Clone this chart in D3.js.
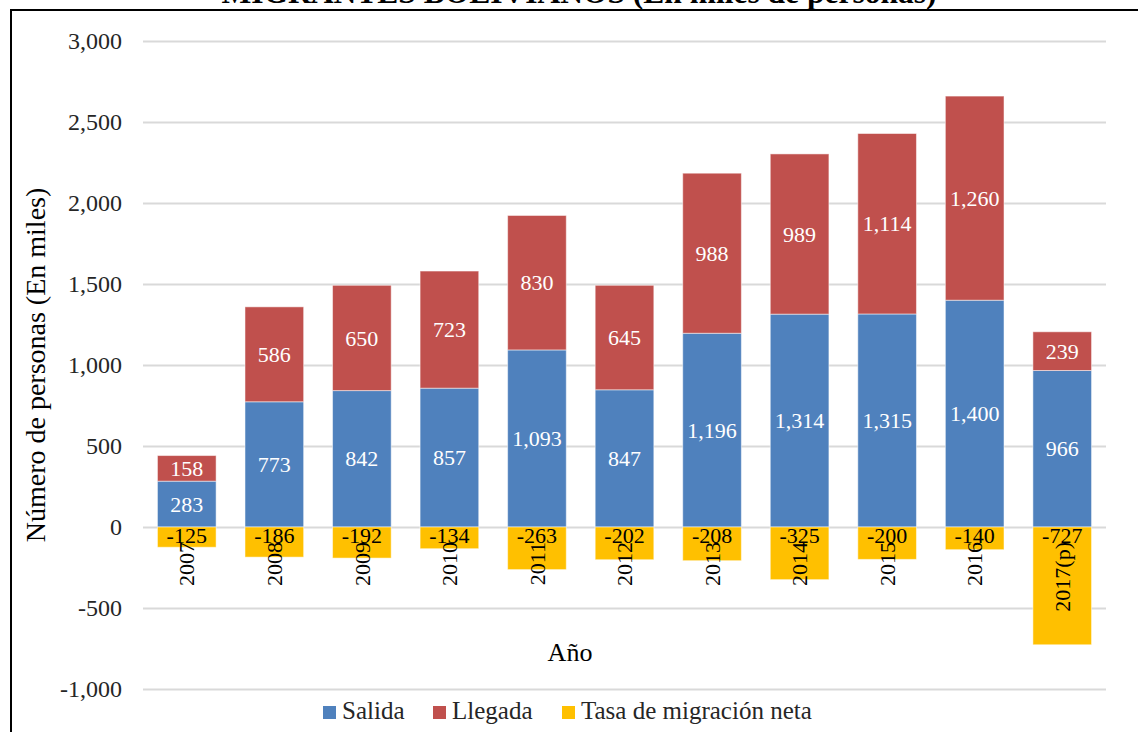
<!DOCTYPE html>
<html>
<head>
<meta charset="utf-8">
<script src="https://cdn.jsdelivr.net/npm/d3@7"></script>
<style>
  body { margin: 0; background: #fff; }
  svg text { font-family: "Liberation Serif", "Times New Roman", serif; }
</style>
</head>
<body>
<svg id="grafico" width="1138" height="732"></svg>
<script>
"use strict"
// datos (en miles de personas)
var anos = ["2007","2008","2009","2010","2011","2012","2013","2014","2015","2016","2017(p)"];
var salida = [283, 773, 842, 857, 1093, 847, 1196, 1314, 1315, 1400, 966];
var llegada = [158, 586, 650, 723, 830, 645, 988, 989, 1114, 1260, 239];
var tasaNeta = [-125, -186, -192, -134, -263, -202, -208, -325, -200, -140, -727];
var series = ["Salida", "Llegada", "Tasa de migración neta"];
var colores = ["#4F81BD", "#C0504D", "#FFC000"];
var yTicks = [-1000, -500, 0, 500, 1000, 1500, 2000, 2500, 3000];

var svg = d3.select("svg#grafico"),
    width = +svg.attr("width"),
    height = +svg.attr("height");

var loc = d3.formatLocale({decimal: ".", thousands: ",", grouping: [3], currency: ["$", ""], minus: "-"});
var fmt = loc.format(",");

var filas = anos.map(function(a, i) {
  return {ano: a, "Salida": salida[i], "Llegada": llegada[i], "Tasa de migración neta": tasaNeta[i]};
});

var x = d3.scaleBand()
    .domain(anos)
    .range([143, 1106])
    .paddingInner(0.33)
    .paddingOuter(0.165);

var y = d3.scaleLinear()
    .domain([-1000, 3000])
    .range([689, 41]);

var color = d3.scaleOrdinal().domain(series).range(colores);

// marco
svg.append("line").attr("x1", 10).attr("x2", width).attr("y1", 10).attr("y2", 10)
    .attr("stroke", "#000").attr("stroke-width", 2);
svg.append("line").attr("x1", 11).attr("x2", 11).attr("y1", 10).attr("y2", height)
    .attr("stroke", "#000").attr("stroke-width", 2);

// titulo (cortado arriba como en el original)
svg.append("text")
    .attr("x", 579).attr("y", 3)
    .attr("text-anchor", "middle")
    .attr("font-weight", "bold")
    .attr("font-size", 31.5)
    .text("MIGRANTES BOLIVIANOS (En miles de personas)");

// eje y con lineas de grilla
var ejeY = svg.append("g")
    .attr("transform", "translate(143,0)")
    .call(d3.axisLeft(y).tickValues(yTicks).tickFormat(fmt).tickSize(-(1106 - 143)).tickPadding(21));
ejeY.select(".domain").remove();
ejeY.selectAll("line").attr("stroke", "#D9D9D9").attr("stroke-width", 2);
ejeY.selectAll("text")
    .attr("font-family", "Liberation Serif")
    .attr("font-size", 24)
    .attr("fill", "#262626");

// barras apiladas
var apilado = d3.stack()
    .keys(series)
    .offset(d3.stackOffsetDiverging)(filas);

var grupos = svg.append("g")
    .selectAll("g")
    .data(apilado)
  .enter().append("g")
    .attr("fill", function(d) { return color(d.key); });

grupos.selectAll("rect")
    .data(function(d) { return d; })
  .enter().append("rect")
    .attr("x", function(d) { return x(d.data.ano); })
    .attr("width", x.bandwidth())
    .attr("y", function(d) { return y(d[1]); })
    .attr("height", function(d) { return y(d[0]) - y(d[1]); })
    .attr("stroke", "#fff")
    .attr("stroke-opacity", 0.5)
    .attr("stroke-width", 1);

// etiquetas de eje x (rotadas)
var ejeX = svg.append("g")
    .attr("transform", "translate(0," + y(0) + ")")
    .call(d3.axisBottom(x).tickSize(0));
ejeX.select(".domain").remove();
ejeX.selectAll("text")
    .attr("font-family", "Liberation Serif")
    .attr("font-size", 22)
    .attr("fill", "#000")
    .attr("transform", "rotate(-90)")
    .attr("x", -15)
    .attr("y", 0)
    .attr("dy", "0.35em")
    .attr("text-anchor", "end");

// etiquetas de datos
grupos.each(function(s) {
  var neta = s.key === "Tasa de migración neta";
  d3.select(this).selectAll("text")
      .data(s)
    .enter().append("text")
      .attr("x", function(d) { return x(d.data.ano) + x.bandwidth() / 2; })
      .attr("y", function(d) { return neta ? y(0) + 8 : (y(d[0]) + y(d[1])) / 2; })
      .attr("dy", "0.35em")
      .attr("text-anchor", "middle")
      .attr("font-size", 22)
      .attr("fill", neta ? "#000" : "#fff")
      .text(function(d) { return fmt(d.data[s.key]); });
});

// titulos de ejes
svg.append("text")
    .attr("transform", "translate(45,365) rotate(-90)")
    .attr("text-anchor", "middle")
    .attr("font-size", 28)
    .attr("fill", "#000")
    .text("Número de personas (En miles)");

svg.append("text")
    .attr("x", 570).attr("y", 661)
    .attr("text-anchor", "middle")
    .attr("font-size", 26)
    .attr("fill", "#000")
    .text("Año");

// leyenda
var leyX = [323, 433, 562];
var leyenda = svg.append("g")
    .selectAll("g")
    .data(series)
  .enter().append("g")
    .attr("transform", function(d, i) { return "translate(" + leyX[i] + ",706)"; });
leyenda.append("rect")
    .attr("width", 13).attr("height", 13)
    .attr("fill", function(d) { return color(d); });
leyenda.append("text")
    .attr("x", 19).attr("y", 13)
    .attr("font-size", 25)
    .attr("fill", "#262626")
    .text(function(d) { return d; });
</script>
</body>
</html>
